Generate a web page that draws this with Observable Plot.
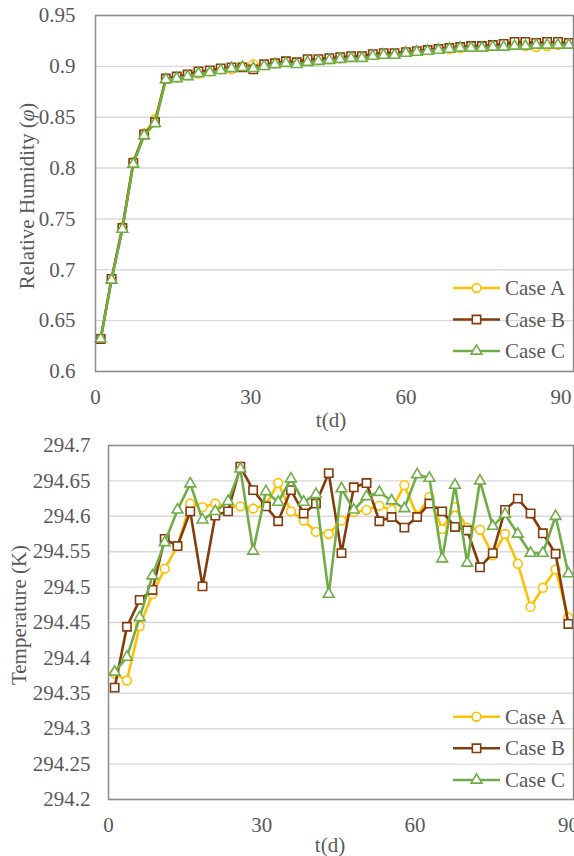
<!DOCTYPE html>
<html><head><meta charset="utf-8">
<script src="https://cdn.jsdelivr.net/npm/d3@7"></script>
<script src="https://cdn.jsdelivr.net/npm/@observablehq/plot@0.6"></script>
<style>
body{margin:0;background:#fff;}
#wrap{position:relative;width:574px;height:856px;overflow:hidden;font-family:"Liberation Serif","DejaVu Serif",serif;}
#wrap svg{position:absolute;left:0;overflow:visible;}
#wrap svg text{font-family:"Liberation Serif","DejaVu Serif",serif !important;}
</style></head><body><div id="wrap"></div>
<script>
// ---------- data ----------
const seriesNames = ["Case A", "Case B", "Case C"];
const seriesColors = ["#FFC000", "#843C0C", "#70AD47"];
const seriesSymbols = ["circle", "square", "triangle"];

const xTicks = [0, 30, 60, 90];

// Panel 1: relative humidity
const rhTime = [1.0, 3.1, 5.2, 7.3, 9.4, 11.5, 13.6, 15.7, 17.8, 19.9, 22.1, 24.2, 26.3, 28.4, 30.5,
  32.6, 34.7, 36.8, 38.9, 41.0, 43.1, 45.2, 47.3, 49.4, 51.5, 53.6, 55.7, 57.8, 60.0, 62.1,
  64.2, 66.3, 68.4, 70.5, 72.6, 74.7, 76.8, 78.9, 81.0, 83.1, 85.2, 87.3, 89.4, 91.5];
const rhCaseA = [0.632, 0.691, 0.742, 0.806, 0.834, 0.848, 0.888, 0.889, 0.891, 0.893, 0.895, 0.897, 0.897, 0.900, 0.902,
  0.901, 0.903, 0.905, 0.904, 0.906, 0.906, 0.907, 0.908, 0.909, 0.910, 0.911, 0.912, 0.913, 0.914, 0.915,
  0.916, 0.917, 0.917, 0.918, 0.919, 0.919, 0.920, 0.920, 0.921, 0.920, 0.919, 0.920, 0.921, 0.922];
const rhCaseB = [0.632, 0.691, 0.741, 0.805, 0.833, 0.845, 0.888, 0.890, 0.892, 0.895, 0.896, 0.898, 0.899, 0.899, 0.897,
  0.902, 0.903, 0.905, 0.904, 0.907, 0.907, 0.908, 0.909, 0.910, 0.910, 0.912, 0.913, 0.913, 0.914, 0.915,
  0.916, 0.917, 0.918, 0.919, 0.920, 0.920, 0.921, 0.922, 0.924, 0.924, 0.923, 0.924, 0.924, 0.923];
const rhCaseC = [0.632, 0.690, 0.740, 0.804, 0.832, 0.844, 0.887, 0.888, 0.890, 0.893, 0.894, 0.896, 0.898, 0.899, 0.898,
  0.900, 0.902, 0.903, 0.902, 0.904, 0.905, 0.906, 0.907, 0.908, 0.908, 0.910, 0.911, 0.911, 0.913, 0.914,
  0.915, 0.916, 0.917, 0.918, 0.918, 0.918, 0.919, 0.919, 0.920, 0.920, 0.921, 0.921, 0.921, 0.921];
const rhTicks = [0.6, 0.65, 0.7, 0.75, 0.8, 0.85, 0.9, 0.95];

// Panel 2: temperature
const tempTime = [1.2, 3.6, 6.1, 8.6, 11.0, 13.5, 16.0, 18.4, 20.9, 23.4, 25.8, 28.3, 30.8, 33.2, 35.7,
  38.2, 40.6, 43.1, 45.6, 48.0, 50.5, 53.0, 55.4, 57.9, 60.4, 62.8, 65.3, 67.8, 70.2, 72.7,
  75.2, 77.6, 80.1, 82.6, 85.0, 87.5, 90.0];
const tempCaseA = [294.378, 294.368, 294.445, 294.490, 294.526, 294.558, 294.618, 294.613, 294.618, 294.613,
  294.614, 294.611, 294.616, 294.647, 294.607, 294.594, 294.578, 294.575, 294.594, 294.606,
  294.609, 294.615, 294.609, 294.644, 294.601, 294.627, 294.582, 294.613, 294.584, 294.581,
  294.545, 294.575, 294.533, 294.472, 294.499, 294.525, 294.457];
const tempCaseB = [294.358, 294.444, 294.482, 294.496, 294.568, 294.558, 294.607, 294.501, 294.601, 294.607,
  294.670, 294.637, 294.614, 294.593, 294.637, 294.604, 294.618, 294.661, 294.548, 294.641,
  294.647, 294.593, 294.599, 294.584, 294.599, 294.618, 294.607, 294.585, 294.580, 294.528,
  294.548, 294.609, 294.625, 294.604, 294.576, 294.547, 294.448];
const tempCaseC = [294.380, 294.401, 294.457, 294.516, 294.563, 294.609, 294.646, 294.595, 294.607, 294.621,
  294.667, 294.551, 294.635, 294.620, 294.653, 294.620, 294.631, 294.490, 294.639, 294.609,
  294.628, 294.634, 294.622, 294.611, 294.659, 294.654, 294.540, 294.644, 294.534, 294.650,
  294.586, 294.603, 294.575, 294.548, 294.548, 294.600, 294.519];
const tempTicks = [294.2, 294.25, 294.3, 294.35, 294.4, 294.45, 294.5, 294.55, 294.6, 294.65, 294.7];

// ---------- drawing ----------
const FONT = '"Liberation Serif","DejaVu Serif",serif';
const TXT = "#595959";
const FS = 21;
const symR = {circle: 4.4, square: 4.7, triangle: 4.0};

function panel(o) {
  const marks = [
    Plot.gridY(o.yTicks, {stroke: "#D9D9D9", strokeOpacity: 1, strokeWidth: 1.4}),
    Plot.axisY(o.yTicks, {tickSize: 0, tickPadding: o.yPad, label: null, tickFormat: d => String(d)}),
    Plot.axisX(xTicks, {tickSize: 0, tickPadding: 18, label: null})
  ];
  o.series.forEach((vals, i) => {
    const data = o.time.map((t, j) => ({t, v: vals[j]}));
    marks.push(Plot.line(data, {x: "t", y: "v", stroke: seriesColors[i], strokeWidth: 2.6}));
    marks.push(Plot.dot(data, {x: "t", y: "v", symbol: () => seriesSymbols[i], stroke: seriesColors[i],
      fill: "white", strokeWidth: 1.6, r: symR[seriesSymbols[i]]}));
  });
  marks.push(Plot.frame({stroke: "#8C8C8C", strokeWidth: 1.5}));
  const svg = Plot.plot({
    width: 574, height: o.height,
    marginLeft: o.ml, marginRight: 1, marginTop: o.mt, marginBottom: o.mb,
    style: {fontFamily: FONT, fontSize: FS + "px", color: TXT, background: "transparent", overflow: "visible"},
    x: {domain: o.xDomain},
    y: {domain: o.yDomain},
    symbol: {type: "identity"},
    marks
  });
  svg.style.top = o.top + "px";
  const s = d3.select(svg);
  // y axis title
  const yt = s.append("text")
    .attr("transform", `translate(${o.ytX},${o.ytY}) rotate(-90)`)
    .attr("text-anchor", "middle").attr("dominant-baseline", "central")
    .attr("fill", TXT).style("font-size", FS + "px");
  o.yTitle(yt);
  // x axis title
  s.append("text").attr("x", o.xtX).attr("y", o.xtY)
    .attr("text-anchor", "middle").attr("dominant-baseline", "central")
    .attr("fill", TXT).style("font-size", FS + "px").text("t(d)");
  // legend
  seriesNames.forEach((name, i) => {
    const y = o.legY[i];
    const g = s.append("g");
    g.append("line").attr("x1", 453).attr("x2", 500).attr("y1", y).attr("y2", y)
      .attr("stroke", seriesColors[i]).attr("stroke-width", 2.6);
    const sym = d3.symbol().type(seriesSymbols[i] === "circle" ? d3.symbolCircle
      : seriesSymbols[i] === "square" ? d3.symbolSquare : d3.symbolTriangle)
      .size(Math.PI * symR[seriesSymbols[i]] ** 2);
    g.append("path").attr("d", sym()).attr("transform", `translate(476.5,${y})`)
      .attr("fill", "white").attr("stroke", seriesColors[i]).attr("stroke-width", 1.6);
    g.append("text").attr("x", 505).attr("y", y).attr("text-anchor", "start").attr("dominant-baseline", "central")
      .attr("fill", TXT).style("font-size", FS + "px").text(name);
  });
  document.getElementById("wrap").appendChild(svg);
}

panel({
  top: 0, height: 432, ml: 95, mt: 15, mb: 61,
  xDomain: [0, 92.4], yDomain: [0.6, 0.95], yTicks: rhTicks, yPad: 20,
  time: rhTime, series: [rhCaseA, rhCaseB, rhCaseC],
  ytX: 27, ytY: 196,
  yTitle: t => { t.append("tspan").text("Relative Humidity ("); t.append("tspan").style("font-style", "italic").text("φ"); t.append("tspan").text(")"); },
  xtX: 331, xtY: 420,
  legY: [288, 319.5, 351]
});
panel({
  top: 432, height: 424, ml: 108, mt: 13, mb: 57,
  xDomain: [0, 91], yDomain: [294.2, 294.7], yTicks: tempTicks, yPad: 18,
  time: tempTime, series: [tempCaseA, tempCaseB, tempCaseC],
  ytX: 19, ytY: 183,
  yTitle: t => t.text("Temperature (K)"),
  xtX: 330, xtY: 413,
  legY: [284.7, 316.3, 348]
});
</script></body></html>
